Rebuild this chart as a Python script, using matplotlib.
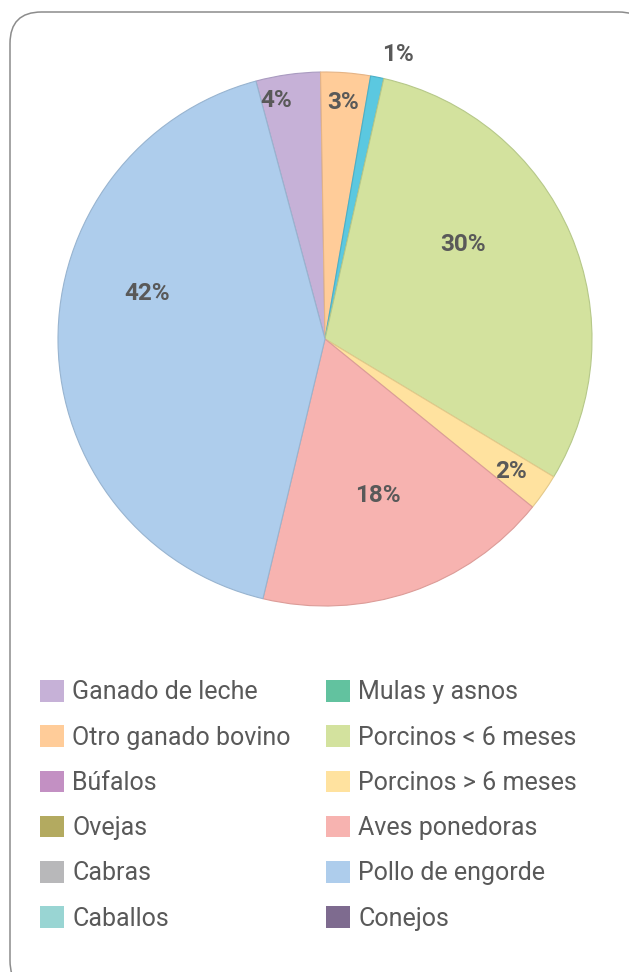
import numpy as np
import matplotlib
matplotlib.use("Agg")
import matplotlib.pyplot as plt
from matplotlib.patches import Patch, FancyBboxPatch

# ------------------------------------------------------------
# Data (slices drawn clockwise, Excel-style)
# ------------------------------------------------------------
slice_values = [3.9, 3.0, 0.8, 30.1, 2.2, 17.9, 42.1]
slice_labels = ["4%", "3%", "1%", "30%", "2%", "18%", "42%"]
slice_colors = ["#C6B1D7", "#FFCC99", "#5BC8E0", "#D3E29E",
                "#FFE29F", "#F7B3B0", "#AECDEC"]
slice_edges = ["#A99BC0", "#E5B486", "#4AB0C8", "#B6C889",
               "#E3C98A", "#DC9C98", "#98B4D0"]

legend_names = ["Ganado de leche", "Otro ganado bovino", "Búfalos", "Ovejas",
                "Cabras", "Caballos", "Mulas y asnos", "Porcinos < 6 meses",
                "Porcinos > 6 meses", "Aves ponedoras", "Pollo de engorde",
                "Conejos"]
legend_colors = ["#C6B1D7", "#FFCC99", "#C390C3", "#B3AA60",
                 "#B8B8BA", "#99D5D3", "#62C29F", "#D3E29E",
                 "#FFE29F", "#F7B3B0", "#AECDEC", "#7E6B8F"]

# label placement: (radius fraction, angle offset from wedge middle in deg)
label_pos = [(0.92, 3.5), (0.90, 0), (1.11, -3), (0.63, 12),
             (0.85, 0), (0.61, 0), (0.69, -16)]

TEXT = "#595959"

fig = plt.figure(figsize=(6.29, 9.72), dpi=100)

# rounded frame (kept behind the axes)
frame = FancyBboxPatch((10 / 629, -20 / 972), 640 / 629, 980 / 972,
                       boxstyle="round,pad=0,rounding_size=0.05",
                       transform=fig.transFigure, facecolor="white",
                       edgecolor="#8C8C8C", linewidth=1.1,
                       mutation_aspect=629 / 972, zorder=-10)
fig.add_artist(frame)

# pie axes: center ~ (325, 339) px, radius ~267 px
R = 267
ax = fig.add_axes([(325 - R) / 629, 1 - (339 + R) / 972,
                   2 * R / 629, 2 * R / 972])
ax.set_zorder(5)
ax.patch.set_visible(False)
wedges, _ = ax.pie(slice_values, colors=slice_colors, startangle=105,
                   counterclock=False, radius=1,
                   wedgeprops=dict(linewidth=0.8))
for w, ec in zip(wedges, slice_edges):
    w.set_edgecolor(ec)

for w, lab, (rf, off) in zip(wedges, slice_labels, label_pos):
    mid = np.deg2rad((w.theta1 + w.theta2) / 2 + off)
    ax.text(rf * np.cos(mid), rf * np.sin(mid) - 0.01, lab, ha="center",
            va="center", fontsize=17.5, fontweight="bold", color=TEXT,
            family="Roboto")
ax.set_xlim(-1, 1)
ax.set_ylim(-1, 1)
ax.set_aspect("equal")
ax.axis("off")

# legend
handles = [Patch(facecolor=c, edgecolor="none") for c in legend_colors]
leg = fig.legend(handles, legend_names, ncol=2, loc="upper left",
                 bbox_to_anchor=(30 / 629, 1 - 670 / 972),
                 frameon=False, prop=dict(family="Roboto", size=18),
                 handlelength=0.95, handleheight=0.95, handletextpad=0.33,
                 labelspacing=0.835, columnspacing=1.43, borderaxespad=0)
leg.set_zorder(5)
for t in leg.get_texts():
    t.set_color(TEXT)

fig.savefig("out.png", dpi=100)
